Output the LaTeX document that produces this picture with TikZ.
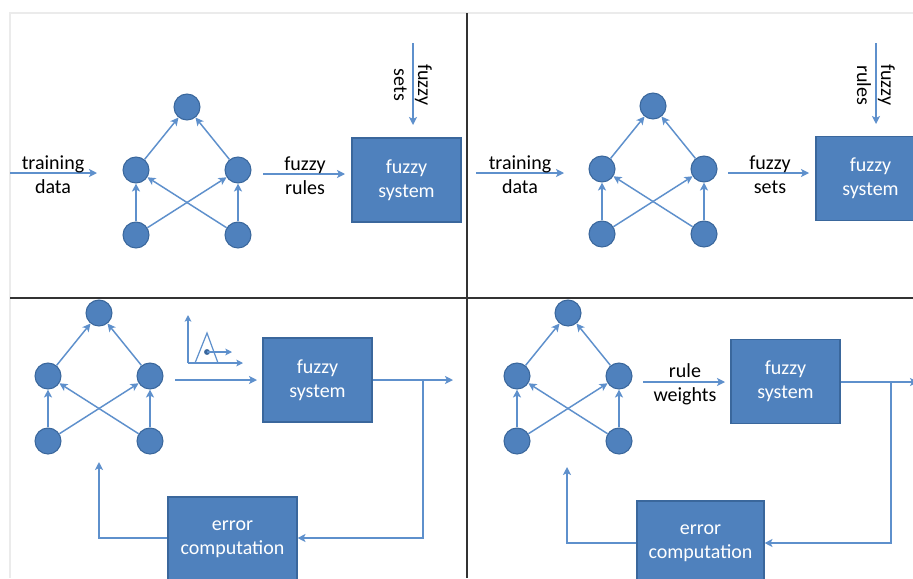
\documentclass[tikz,border=0pt]{standalone}
\usepackage{fontspec}
\setmainfont{Carlito}
\usetikzlibrary{arrows.meta}
\definecolor{nodeblue}{HTML}{4F81BD}
\definecolor{nodeedge}{HTML}{3A679C}
\definecolor{linkblue}{HTML}{5E90CC}
\tikzset{
  nn/.style={circle,fill=nodeblue,draw=nodeedge,line width=0.8pt,minimum size=19.5pt,inner sep=0pt},
  conn/.style={draw=linkblue,line width=1.1pt,-{Stealth[length=6pt,width=6pt,inset=1.5pt]}},
  wire/.style={draw=linkblue,line width=1.1pt},
  boxnode/.style={rectangle,fill=nodeblue,draw=nodeedge,line width=0.8pt,text=white,align=center,font=\fontsize{15pt}{18pt}\selectfont,minimum height=63pt,inner sep=0pt},
  lbl/.style={align=center,font=\fontsize{15pt}{18pt}\selectfont,text=black,inner sep=0pt},
  divider/.style={draw=black!80,line width=1.2pt},
}
\newcommand{\drawnet}[3]{%
  \node[nn] (#1t) at ({#2+51},{#3}) {};
  \node[nn] (#1ml) at ({#2},{#3+63}) {};
  \node[nn] (#1mr) at ({#2+102},{#3+63}) {};
  \node[nn] (#1bl) at ({#2},{#3+128}) {};
  \node[nn] (#1br) at ({#2+102},{#3+128}) {};
  \draw[conn] (#1bl) -- (#1ml);
  \draw[conn] (#1br) -- (#1mr);
  \draw[conn] (#1bl) -- (#1mr);
  \draw[conn] (#1br) -- (#1ml);
  \draw[conn] (#1ml) -- (#1t);
  \draw[conn] (#1mr) -- (#1t);
}
\begin{document}
\begin{tikzpicture}[x=0.75pt,y=-0.75pt]
\useasboundingbox (0,0) rectangle (913,578);
\fill[white] (0,0) rectangle (913,578);
\clip (0,0) rectangle (913,578);
% frame
\draw[black!8,line width=1pt] (10,578) -- (10,13) -- (913,13);
\draw[divider] (467,13) -- (467,578);
\draw[divider] (10,298) -- (913,298);

% ===== Panel 1 =====
\drawnet{a}{136}{107}
\node[boxnode,minimum width=81.75pt] (asys) at (406.5,180) {fuzzy\\system};
\coordinate (ain) at (10,173);
\coordinate (ainend) at (97,173);
\draw[conn] (ain) -- (ainend);
\node[lbl] (atd) at (53,175) {training\\data};
\coordinate (ar1) at (263,174);
\coordinate (ar2) at (345,174);
\draw[conn] (ar1) -- (ar2);
\node[lbl] (afr) at (305,176) {fuzzy\\rules};
\coordinate (as1) at (413,43);
\coordinate (as2) at (413,125);
\draw[conn] (as1) -- (as2);
\node[lbl,rotate=-90] (afs) at (413,85) {fuzzy\\sets};

% ===== Panel 2 =====
\drawnet{b}{602}{106}
\node[boxnode,minimum width=81.75pt] (bsys) at (870.5,178.5) {fuzzy\\system};
\coordinate (bin) at (476,173);
\coordinate (binend) at (564,173);
\draw[conn] (bin) -- (binend);
\node[lbl] (btd) at (520,175) {training\\data};
\coordinate (bs1) at (728,173);
\coordinate (bs2) at (809,173);
\draw[conn] (bs1) -- (bs2);
\node[lbl] (bfs) at (770,175) {fuzzy\\sets};
\coordinate (br1) at (876,43);
\coordinate (br2) at (876,124);
\draw[conn] (br1) -- (br2);
\node[lbl,rotate=-90] (bfr) at (876,85) {fuzzy\\rules};

% ===== Panel 3 =====
\drawnet{c}{48}{313}
\node[boxnode,minimum width=81.75pt] (csys) at (317.5,380) {fuzzy\\system};
\node[boxnode,minimum width=96.75pt] (cerr) at (232.5,539) {error\\computation};
\coordinate (cin1) at (175,380);
\coordinate (cin2) at (257,380);
\draw[conn] (cin1) -- (cin2);
% membership icon
\coordinate (cax0) at (188,363);
\coordinate (caxy) at (188,315);
\coordinate (caxx) at (243,363);
\draw[conn,line width=0.9pt,-{Stealth[length=5pt,width=5pt,inset=1.2pt]}] (cax0) -- (caxy);
\draw[conn,line width=0.9pt,-{Stealth[length=5pt,width=5pt,inset=1.2pt]}] (cax0) -- (caxx);
\draw[wire,line width=0.9pt] (195,363) -- (207,333) -- (218,363);
\coordinate (cdot) at (207,352);
\coordinate (cdotend) at (232,352);
\fill[nodeedge] (cdot) circle (2.2pt);
\draw[conn,line width=0.9pt,-{Stealth[length=5pt,width=5pt,inset=1.2pt]}] (cdot) -- (cdotend);
% output and feedback
\coordinate (cout) at (453,380);
\coordinate (cbr) at (423,380);
\coordinate (cbr2) at (423,538);
\draw[conn] (csys.east) -- (cout);
\draw[conn] (cbr) -- (cbr2) -- (cerr.east |- cbr2);
\coordinate (cfb1) at (99,538);
\coordinate (cfb2) at (99,462);
\draw[conn] (cerr.west |- cfb1) -- (cfb1) -- (cfb2);

% ===== Panel 4 =====
\drawnet{d}{517}{313}
\node[boxnode,minimum width=81.75pt] (dsys) at (785.5,381.5) {fuzzy\\system};
\node[boxnode,minimum width=95.25pt] (derr) at (700.5,543) {error\\computation};
\coordinate (din1) at (643,382);
\coordinate (din2) at (725,382);
\draw[conn] (din1) -- (din2);
\node[lbl] (drw) at (685,384) {rule\\weights};
\coordinate (dout) at (918,382);
\coordinate (dbr) at (891,382);
\coordinate (dbr2) at (891,543);
\draw[conn] (dsys.east |- dout) -- (dout);
\draw[conn] (dbr) -- (dbr2) -- (derr.east |- dbr2);
\coordinate (dfb1) at (567,543);
\coordinate (dfb2) at (567,467);
\draw[conn] (derr.west |- dfb1) -- (dfb1) -- (dfb2);
\end{tikzpicture}
\end{document}
